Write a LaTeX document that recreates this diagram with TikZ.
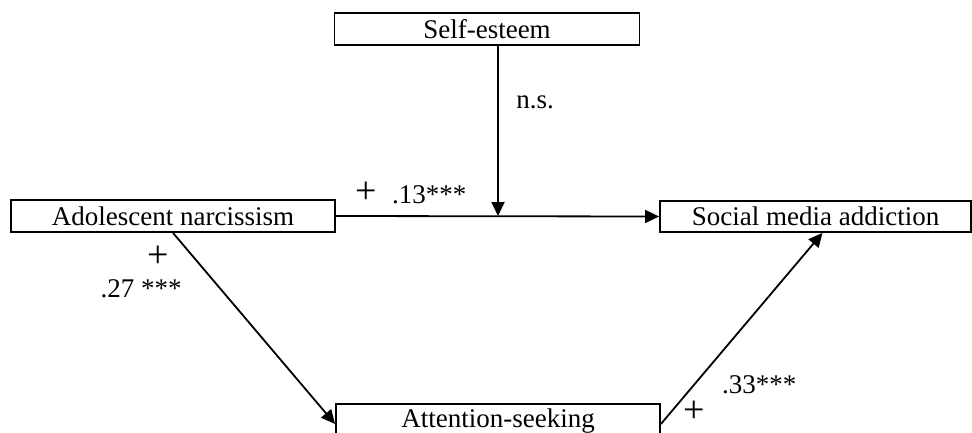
\documentclass[tikz,border=0pt]{standalone}
\usepackage{fontspec}
\setmainfont{Liberation Serif}
\usetikzlibrary{arrows.meta}
\begin{document}
\begin{tikzpicture}[x=1pt,y=-1pt,
  box/.style={draw,line width=1.8pt,rectangle,inner sep=0pt,font=\fontsize{27}{30}\selectfont},
  conn/.style={line width=1.8pt,-{Triangle[length=14pt,width=13pt]}},
  lbl/.style={inner sep=0pt,font=\fontsize{27}{30}\selectfont},
  plus/.style={inner sep=0pt,text height=21pt,text depth=0pt,font=\fontsize{38}{40}\selectfont}]
\useasboundingbox (0,0) rectangle (972,432);
\clip (0,0) rectangle (972,432);
\node[box,minimum width=305pt,minimum height=32pt] (se) at (487,29) {Self-esteem};
\node[box,minimum width=324pt,minimum height=32pt] (an) at (173,216) {Adolescent narcissism};
\node[box,minimum width=311pt,minimum height=31pt] (sm) at (815.5,216.5) {Social media addiction};
\node[box,minimum width=324pt,minimum height=34pt] (as) at (498,421) {Attention-seeking};
\coordinate (mid) at (498,216);
\draw[conn] (an.east) -- (sm.west);
\draw[conn] (mid|-se.south) -- (mid);
\draw[conn] (an.south) -- ([yshift=-3pt]as.west);
\draw[conn] ([yshift=-3pt]as.east) -- ([xshift=7pt]sm.south);
\node[lbl] (ns) at (535,102) {n.s.};
\node[plus] (p1) at (366,193) {+};
\node[lbl,anchor=west] (c1) at (392,195) {.13***};
\node[plus] (p2) at (158,257) {+};
\node[lbl] (c2) at (141,289) {.27 ***};
\node[plus] (p3) at (694,412) {+};
\node[lbl,anchor=west] (c3) at (722,385) {.33***};
\end{tikzpicture}
\end{document}
